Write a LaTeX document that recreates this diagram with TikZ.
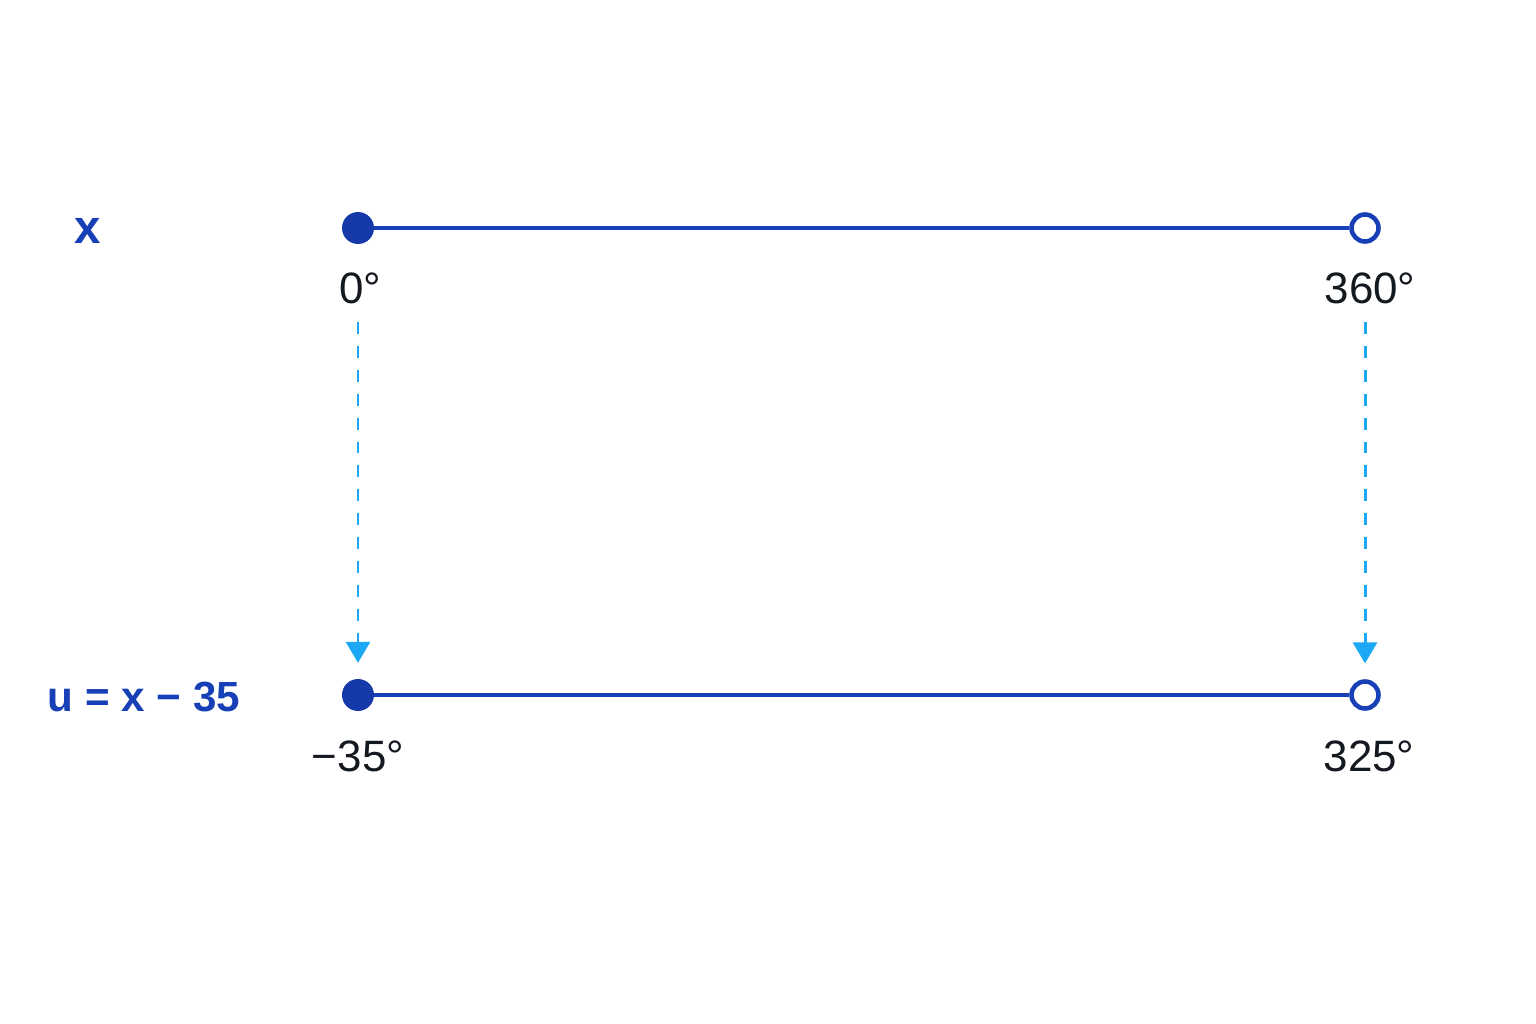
\documentclass[tikz,border=0pt]{standalone}
\usepackage{fontspec}
\setmainfont{Liberation Sans}
\usetikzlibrary{arrows.meta}

\definecolor{lineblue}{HTML}{1740B6}
\definecolor{dotblue}{HTML}{1539A8}
\definecolor{arrowcyan}{HTML}{1CA8F4}
\definecolor{numdark}{HTML}{14181F}

\tikzset{
  closeddot/.style={circle, fill=dotblue, minimum size=0.64cm, inner sep=0pt},
  opendot/.style={circle, draw=lineblue, line width=2.6pt, fill=white, minimum size=0.54cm, inner sep=0pt},
  interval/.style={lineblue, line width=2.7pt},
  degree/.style={text=numdark, font=\fontsize{25}{30}\selectfont},
  varname/.style={text=lineblue, font=\fontsize{24}{29}\selectfont\bfseries},
  shiftarrow/.style={arrowcyan, line width=1.7pt, dash pattern=on 6.8pt off 6.8pt,
    -{Triangle[width=0.48cm,length=0.42cm]}}
}

\begin{document}
\begin{tikzpicture}[x=0.02cm, y=-0.02cm]
\useasboundingbox (0,0) rectangle (1536,1024);

% original interval
\node[varname, font=\fontsize{27}{32}\selectfont\bfseries] (xlab) at (88,231) {x};
\node[closeddot] (a0) at (358,228) {};
\node[opendot] (a1) at (1365,228) {};
\draw[interval] (a0) -- (a1);
\node[degree] (d0) at (360,288) {0°};
\node[degree] (d1) at (1370,288) {360°};

% shifted interval
\node[varname] (ulab) at (144,697) {u = x − 35};
\node[closeddot] (b0) at (358,695) {};
\node[opendot] (b1) at (1365,695) {};
\draw[interval] (b0) -- (b1);
\node[degree] (e0) at (358,756) {−35°};
\node[degree] (e1) at (1369,756) {325°};

% shift arrows
\draw[shiftarrow, shorten <=7pt, shorten >=9pt] (d0.south -| a0) -- (b0.north);
\draw[shiftarrow, shorten <=7pt, shorten >=9pt] (d1.south -| a1) -- (b1.north);

\end{tikzpicture}
\end{document}
